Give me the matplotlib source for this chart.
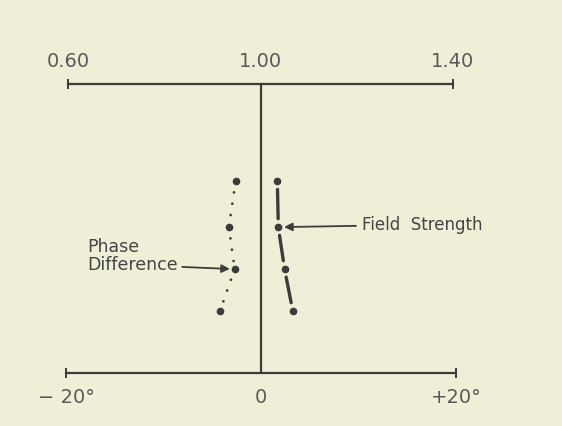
import matplotlib.pyplot as plt

# relative field strength (top scale) and phase difference in degrees (bottom scale)
height = [0.664, 0.505, 0.36, 0.215]
field_strength = [1.035, 1.037, 1.050, 1.067]
phase_deg = [-2.6, -3.3, -2.7, -4.2]

fs_ticks = [0.60, 1.00, 1.40]
fs_labels = ['0.60', '1.00', '1.40']
ph_ticks = [-20, 0, 20]
ph_labels = ['\u2212 20\u00b0', '0', '+20\u00b0']

bg = '#efefd7'
ink = '#3c3c3c'
W, H = 562, 426

fig = plt.figure(figsize=(W / 100, H / 100), dpi=100, facecolor=bg)

# bottom axes: phase difference
ax = fig.add_axes([66 / W, 53 / H, 390 / W, 289 / H])
ax.set_facecolor('none')
ax.set_xlim(-20, 20)
ax.set_ylim(0, 1)
for s in ['top', 'left', 'right']:
    ax.spines[s].set_visible(False)
ax.spines['bottom'].set_color(ink)
ax.spines['bottom'].set_linewidth(1.6)
ax.set_yticks([])
ax.set_xticks(ph_ticks)
ax.set_xticklabels(ph_labels, fontsize=14, color='#5a5a5a')
ax.tick_params(axis='x', direction='inout', length=7, width=1.4, color=ink, pad=7)
ax.xaxis.get_major_ticks()[1].tick1line.set_visible(False)
ax.axvline(0, color=ink, lw=1.6)

# top axes: field strength
ax2 = fig.add_axes([68 / W, 53 / H, 385 / W, 289 / H])
ax2.set_facecolor('none')
ax2.set_xlim(0.60, 1.40)
ax2.set_ylim(0, 1)
for s in ['bottom', 'left', 'right']:
    ax2.spines[s].set_visible(False)
ax2.spines['top'].set_color(ink)
ax2.spines['top'].set_linewidth(1.6)
ax2.set_yticks([])
ax2.xaxis.set_ticks_position('top')
ax2.xaxis.set_label_position('top')
ax2.set_xticks(fs_ticks)
ax2.set_xticklabels(fs_labels, fontsize=14, color='#5a5a5a')
ax2.tick_params(axis='x', direction='inout', length=7, width=1.4, color=ink, pad=6)
ax2.xaxis.get_major_ticks()[1].tick2line.set_visible(False)

# field strength: dots joined by long dashes
ax2.plot(field_strength, height, ls='none', marker='o', ms=4.5, mfc=ink, mec=ink)
for i in range(len(height) - 1):
    ax2.annotate('', xy=(field_strength[i + 1], height[i + 1]),
                 xytext=(field_strength[i], height[i]),
                 arrowprops=dict(arrowstyle='-', color=ink, lw=2.4,
                                 shrinkA=6, shrinkB=6, capstyle='round'))

# phase difference: dots joined by fine dotted segments
ax.plot(phase_deg, height, ls='none', marker='o', ms=4.5, mfc=ink, mec=ink)
for i in range(len(height) - 1):
    ax.plot(phase_deg[i:i + 2], height[i:i + 2], color=ink, lw=2.0,
            ls=(0, (0.01, 4.1)), dash_capstyle='round')

ax2.annotate('Field  Strength', xy=(field_strength[1] + 0.012, height[1]),
             xytext=(1.21, height[1] + 0.008), fontsize=12, color='#444444',
             va='center', ha='left',
             arrowprops=dict(arrowstyle='-|>', color=ink, lw=1.3,
                             shrinkA=2, shrinkB=0, mutation_scale=12))

ax.annotate('Phase\nDifference', xy=(phase_deg[2] - 0.5, height[2]),
            xytext=(-17.8, height[2] + 0.045), fontsize=12.5, color='#444444',
            va='center', ha='left', linespacing=1.0,
            arrowprops=dict(arrowstyle='-|>', color=ink, lw=1.3,
                            shrinkA=1, shrinkB=0, mutation_scale=12,
                            relpos=(1.0, 0.2)))

fig.savefig('out.png', dpi=100, facecolor=bg)
